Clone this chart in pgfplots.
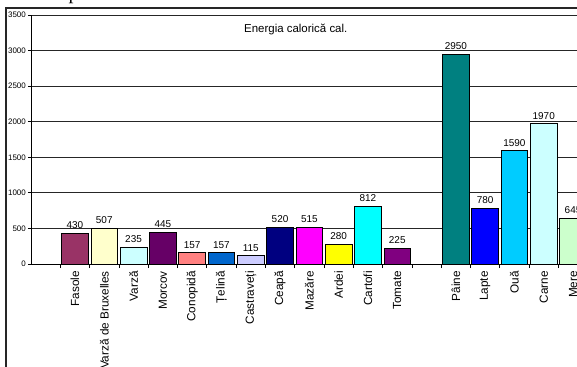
\documentclass[border=0pt]{standalone}
\usepackage{pgfplots}
\pgfplotsset{compat=1.18}
\usepackage{fontspec}
\setmainfont{Liberation Sans}
\newfontfamily\serifp{Liberation Serif}

% classic spreadsheet palette, one colour per product
\definecolor{cFasole}{HTML}{993366}
\definecolor{cBrux}{HTML}{FFFFCC}
\definecolor{cVarza}{HTML}{CCFFFF}
\definecolor{cMorcov}{HTML}{660066}
\definecolor{cConopida}{HTML}{FF8080}
\definecolor{cTelina}{HTML}{0066CC}
\definecolor{cCastraveti}{HTML}{CCCCFF}
\definecolor{cCeapa}{HTML}{000080}
\definecolor{cMazare}{HTML}{FF00FF}
\definecolor{cArdei}{HTML}{FFFF00}
\definecolor{cCartofi}{HTML}{00FFFF}
\definecolor{cTomate}{HTML}{800080}
\definecolor{cPaine}{HTML}{008080}
\definecolor{cLapte}{HTML}{0000FF}
\definecolor{cOua}{HTML}{00CCFF}
\definecolor{cCarne}{HTML}{CCFFFF}
\definecolor{cMere}{HTML}{CCFFCC}

\begin{document}
\begin{tikzpicture}
% chart frame
\draw[line width=1.2bp, black!85] (6bp,-20bp) -- (6bp,359bp) -- (620bp,359bp);
\node[anchor=base west, inner sep=0pt, font=\serifp\fontsize{20}{20}\selectfont] at (68.5bp,367bp) {p};

\begin{axis}[
  at={(31bp,103bp)}, anchor=south west,
  scale only axis, width=546bp, height=249bp,
  xmin=-0.5, xmax=18.135, ymin=0, ymax=3500,
  axis lines=left, axis line style={-, line width=0.9bp, black},
  ytick={0,500,...,3500},
  ymajorgrids, grid style={black!85, line width=0.85bp},
  tick align=outside,
  major tick length=3bp, minor tick length=4bp,
  tick style={black, line width=0.8bp},
  xtick={1,2,...,12,14,15,16,17,18},
  minor xtick={0.5,1.5,...,17.5},
  every major x tick/.append style={draw=none},
  xticklabels={Fasole, Varză de Bruxelles, Varză, Morcov, Conopidă, Țelină, Castraveți, Ceapă, Mazăre, Ardei, Cartofi, Tomate, Pâine, Lapte, Ouă, Carne, Mere},
  xticklabel style={rotate=90, anchor=east, font=\fontsize{11.8}{12}\selectfont, inner sep=4bp},
  yticklabel style={font=\fontsize{8}{8}\selectfont, inner sep=2pt},
  /pgf/number format/assume math mode=true,
  /pgf/number format/set thousands separator={},
  ybar, bar width=26.7bp, bar shift=0pt,
  every axis plot/.append style={draw=black, line width=0.8bp},
  nodes near coords,
  every node near coord/.append style={font=\fontsize{10}{10}\selectfont, black, yshift=1bp},
  clip=true,
]
\addplot[fill=cFasole]     coordinates {(1,430)};
\addplot[fill=cBrux]       coordinates {(2,507)};
\addplot[fill=cVarza]      coordinates {(3,235)};
\addplot[fill=cMorcov]     coordinates {(4,445)};
\addplot[fill=cConopida]   coordinates {(5,157)};
\addplot[fill=cTelina]     coordinates {(6,157)};
\addplot[fill=cCastraveti] coordinates {(7,115)};
\addplot[fill=cCeapa]      coordinates {(8,520)};
\addplot[fill=cMazare]     coordinates {(9,515)};
\addplot[fill=cArdei]      coordinates {(10,280)};
\addplot[fill=cCartofi]    coordinates {(11,812)};
\addplot[fill=cTomate]     coordinates {(12,225)};
\addplot[fill=cPaine]      coordinates {(14,2950)};
\addplot[fill=cLapte]      coordinates {(15,780)};
\addplot[fill=cOua]        coordinates {(16,1590)};
\addplot[fill=cCarne]      coordinates {(17,1970)};
\addplot[fill=cMere]       coordinates {(18,645)};
\end{axis}

\node[anchor=base west, inner sep=0pt, font=\fontsize{11.5}{12}\selectfont] at (244bp,334.5bp) {Energia calorică cal.};

\pgfresetboundingbox
\path[use as bounding box] (0bp,0bp) rectangle (577bp,367bp);
\end{tikzpicture}
\end{document}
